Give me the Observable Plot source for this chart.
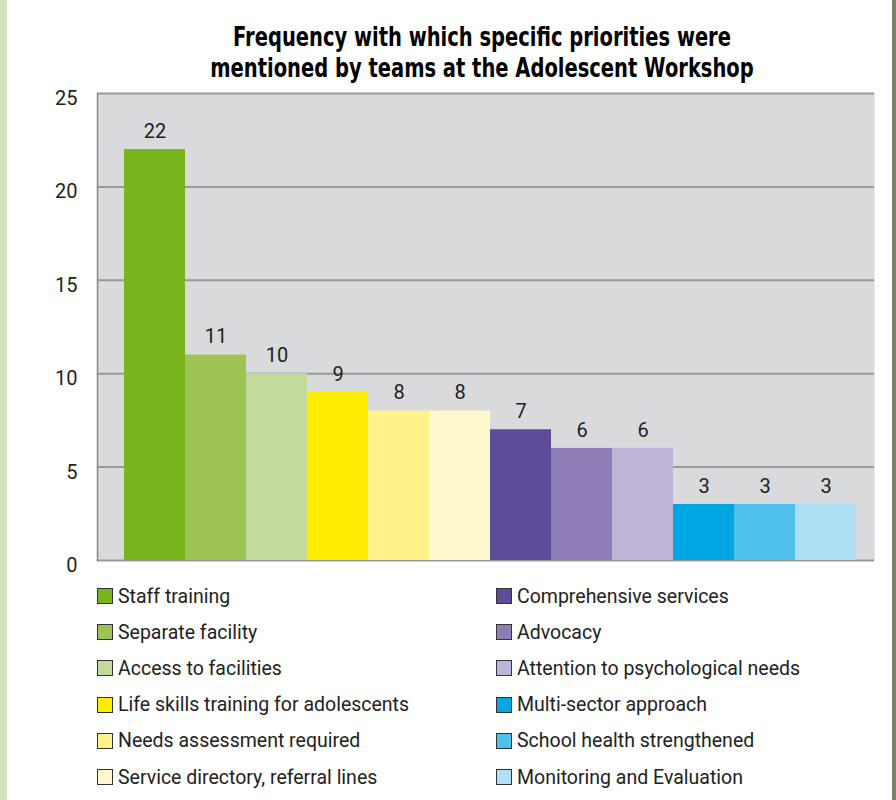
<!DOCTYPE html>
<html>
<head>
<meta charset="utf-8">
<script src="https://cdn.jsdelivr.net/npm/d3@7"></script>
<script src="https://cdn.jsdelivr.net/npm/@observablehq/plot@0.6"></script>
<style>
  html, body { margin: 0; padding: 0; background: #fff; }
  #page { position: relative; width: 896px; height: 800px; overflow: hidden; background: #fff; }
  #leftStrip { position: absolute; left: 0; top: 0; width: 7px; height: 800px; background: #d2e1bd; }
  #rightStrip { position: absolute; right: 0; top: 0; width: 4px; height: 800px; background: #7b8566; }
  #title { position: absolute; left: 0; top: 22px; width: 964px; text-align: center;
    font-family: "DejaVu Sans", sans-serif;
    font-weight: bold; font-size: 26px; line-height: 31px; color: #000;
    transform: scaleX(0.75); transform-origin: 482px 0; }
  #chart { position: absolute; left: 0; top: 80px; }
  .leg { position: absolute; display: flex; align-items: center; font-family: Roboto, sans-serif;
    font-size: 19.5px; color: #222; white-space: nowrap; }
  .sw { width: 14px; height: 14px; border: 1px solid #333; margin-right: 5px; flex: none; }
</style>
</head>
<body>
<div id="page">
  <div id="leftStrip"></div>
  <div id="rightStrip"></div>
  <div id="title">Frequency with which specific priorities were<br>mentioned by teams at the Adolescent Workshop</div>
  <div id="chart"></div>
  <div id="legend"></div>
</div>
<script>
const categories = [
  "Staff training",
  "Separate facility",
  "Access to facilities",
  "Life skills training for adolescents",
  "Needs assessment required",
  "Service directory, referral lines",
  "Comprehensive services",
  "Advocacy",
  "Attention to psychological needs",
  "Multi-sector approach",
  "School health strengthened",
  "Monitoring and Evaluation"
];
const values = [22, 11, 10, 9, 8, 8, 7, 6, 6, 3, 3, 3];
const colors = [
  "#7ab51d", "#9dc352", "#c4da9a",
  "#ffec00", "#fff28a", "#fff8cc",
  "#5e4b9a", "#8f7db7", "#bfb4d8",
  "#00a6e2", "#4fc1ec", "#addff5"
];
const yTicks = [0, 5, 10, 15, 20, 25];

const data = categories.map((c, i) => ({category: c, value: values[i]}));

const chart = Plot.plot({
  width: 896,
  height: 500,
  marginTop: 13,
  marginBottom: 20,
  marginLeft: 97,
  marginRight: 22,
  style: {fontFamily: "Roboto, sans-serif", background: "transparent"},
  x: {type: "band", domain: categories, padding: 0, insetLeft: 26, insetRight: 17, axis: null},
  y: {domain: [0, 25], axis: null},
  color: {domain: categories, range: colors},
  marks: [
    Plot.frame({fill: "#d9dadc", stroke: null}),
    Plot.gridY(yTicks, {stroke: "#999", strokeOpacity: 1, strokeWidth: 2}),
    Plot.barY(data, {x: "category", y: "value", fill: "category"}),
    Plot.frame({anchor: "left", stroke: "#888", strokeWidth: 1.5}),
    Plot.axisY({ticks: yTicks, tickSize: 0, tickPadding: 20, fontSize: 20, dy: 5, fill: "#222", label: null}),
    Plot.text(data, {x: "category", y: "value", text: d => String(d.value), dy: -18, fontSize: 20, fill: "#222"})
  ]
});
document.getElementById("chart").appendChild(chart);

const legend = document.getElementById("legend");
categories.forEach((c, i) => {
  const col = Math.floor(i / 6), row = i % 6;
  const item = document.createElement("div");
  item.className = "leg";
  item.style.left = (col === 0 ? 97 : 496) + "px";
  item.style.top = (584 + row * 36.2) + "px";
  item.style.height = "24px";
  const sw = document.createElement("div");
  sw.className = "sw";
  sw.style.background = colors[i];
  const tx = document.createElement("span");
  tx.textContent = c;
  item.appendChild(sw);
  item.appendChild(tx);
  legend.appendChild(item);
});
</script>
</body>
</html>
